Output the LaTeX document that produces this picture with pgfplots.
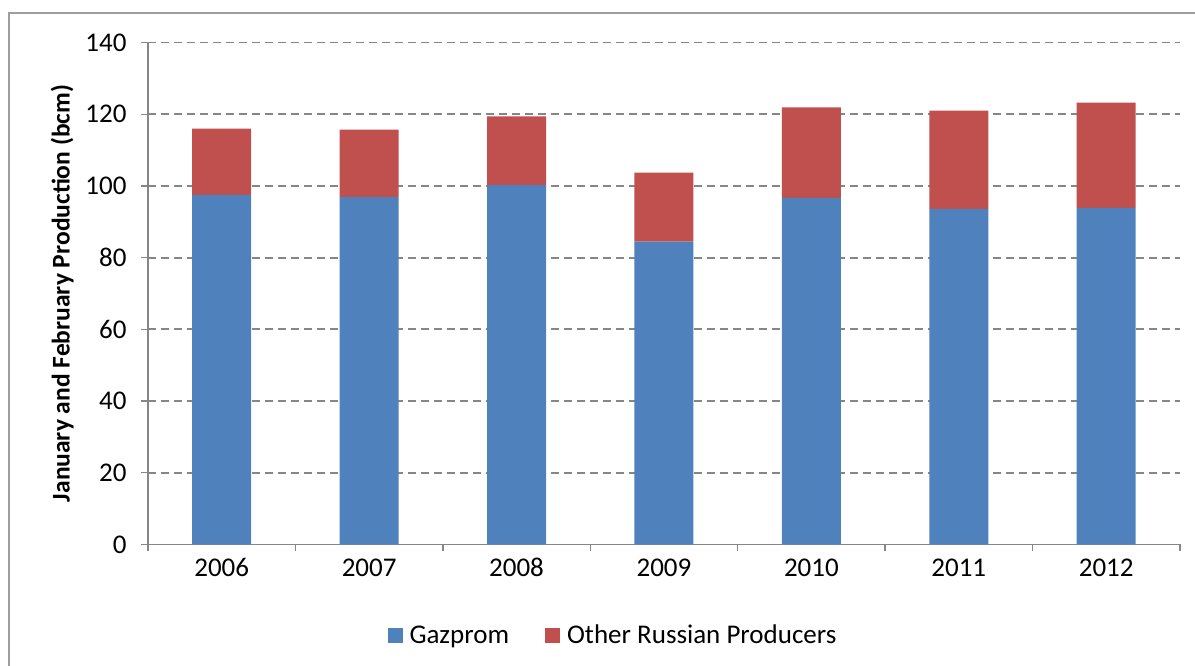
\documentclass[border=0pt]{standalone}
\usepackage{fontspec}
\setmainfont{Carlito}
\usepackage{pgfplots}
\pgfplotsset{compat=1.18}
\definecolor{gzblue}{HTML}{4F81BD}
\definecolor{othred}{HTML}{C0504D}
\definecolor{axgray}{HTML}{868686}
\begin{document}
\begin{tikzpicture}
\useasboundingbox (0pt,0pt) rectangle (1195pt,666pt);
\draw[axgray!80, line width=1.6pt] (9pt,-10pt) -- (9pt,653pt) -- (1210pt,653pt);
\begin{axis}[
  at={(148pt,121.5pt)}, anchor=south west,
  scale only axis, width=1032pt, height=502pt,
  ybar stacked, bar width=59pt,
  xmin=-0.5, xmax=6.5, ymin=0, ymax=140,
  ytick={0,20,...,140},
  xtick={-0.5,0.5,...,6.5}, xticklabels={},
  extra x ticks={0,1,2,3,4,5,6},
  extra x tick labels={2006,2007,2008,2009,2010,2011,2012},
  extra x tick style={major tick length=0pt, grid=none},
  axis x line*=bottom, axis y line*=left,
  axis line style={axgray, line width=1.4pt},
  tick style={axgray, line width=1.4pt},
  tick align=outside, major tick length=7pt,
  ymajorgrids, grid style={axgray, line width=1.8pt, dash pattern=on 8pt off 5pt},
  /pgf/number format/assume math mode=true,
  tick label style={font=\fontsize{27}{31}\selectfont, black},
  yticklabel style={xshift=-11pt},
  xticklabel style={anchor=north, text height=18pt, text depth=0pt, yshift=-10pt},
  ylabel={January and February Production (bcm)},
  ylabel style={font=\fontsize{25.5}{29}\selectfont\bfseries, at={(axis description cs:-0.0833,0.5)}, anchor=center},
  legend columns=2,
  legend style={at={(0.4506,-0.1803)}, anchor=center, draw=none, font=\fontsize{27}{31}\selectfont,
    /tikz/every even column/.append style={column sep=34pt}},
  legend image code/.code={\fill[#1] (0pt,-7.5pt) rectangle (15pt,7.5pt); \path (20pt,0pt);},
]
\addplot[fill=gzblue, draw=none] coordinates {(0,97.5) (1,96.9) (2,100.2) (3,84.5) (4,96.7) (5,93.6) (6,93.9)};
\addplot[fill=othred, draw=none] coordinates {(0,18.5) (1,18.8) (2,19.2) (3,19.2) (4,25.2) (5,27.4) (6,29.3)};
\legend{Gazprom, Other Russian Producers}
\end{axis}
\end{tikzpicture}
\end{document}
